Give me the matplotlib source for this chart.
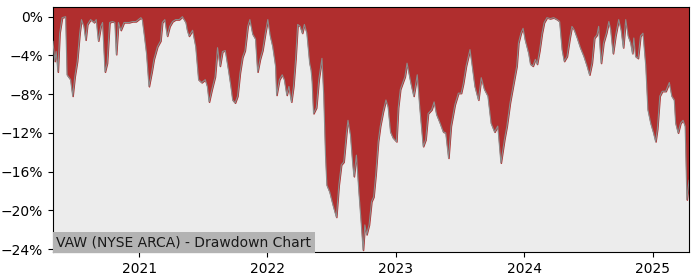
import numpy as np
import pandas as pd
import matplotlib
matplotlib.use("Agg")
import matplotlib.pyplot as plt
import matplotlib.dates as mdates
from matplotlib.ticker import PercentFormatter, MultipleLocator

# ドローダウンのデータ (目視で読み取った値, %)
dates = [
    "2020-05-01", "2020-05-06", "2020-05-10", "2020-05-15", "2020-05-20", "2020-05-27",
    "2020-06-06", "2020-06-10", "2020-06-20", "2020-06-26", "2020-07-02", "2020-07-09",
    "2020-07-16", "2020-07-21", "2020-07-28", "2020-08-02", "2020-08-07", "2020-08-16",
    "2020-08-26", "2020-09-01", "2020-09-07", "2020-09-14", "2020-09-19", "2020-09-26",
    "2020-10-02", "2020-10-09", "2020-10-17", "2020-10-24", "2020-10-28", "2020-11-03",
    "2020-11-10", "2020-11-19", "2020-12-04", "2020-12-13", "2020-12-23", "2021-01-06",
    "2021-01-10", "2021-01-15", "2021-01-22", "2021-01-29", "2021-02-06", "2021-02-12",
    "2021-02-22", "2021-03-03", "2021-03-08", "2021-03-15", "2021-03-22", "2021-03-29",
    "2021-04-06", "2021-04-15", "2021-04-25", "2021-05-04", "2021-05-14", "2021-05-18",
    "2021-05-23", "2021-06-02", "2021-06-11", "2021-06-19", "2021-06-28", "2021-07-08",
    "2021-07-14", "2021-07-19", "2021-07-27", "2021-08-05", "2021-08-12", "2021-08-19",
    "2021-08-26", "2021-09-03", "2021-09-12", "2021-09-19", "2021-09-24", "2021-10-01",
    "2021-10-08", "2021-10-15", "2021-10-22", "2021-10-29", "2021-11-06", "2021-11-12",
    "2021-11-20", "2021-11-28", "2021-12-04", "2021-12-11", "2021-12-18", "2021-12-26",
    "2022-01-02", "2022-01-09", "2022-01-16", "2022-01-24", "2022-01-27", "2022-02-04",
    "2022-02-12", "2022-02-18", "2022-02-25", "2022-03-03", "2022-03-10", "2022-03-16",
    "2022-03-22", "2022-03-28", "2022-04-04", "2022-04-10", "2022-04-16", "2022-04-23",
    "2022-05-01", "2022-05-05", "2022-05-08", "2022-05-12", "2022-05-20", "2022-05-27",
    "2022-06-05", "2022-06-10", "2022-06-15", "2022-06-19", "2022-06-27", "2022-07-06",
    "2022-07-16", "2022-07-23", "2022-07-30", "2022-08-06", "2022-08-14", "2022-08-18",
    "2022-08-25", "2022-08-31", "2022-09-04", "2022-09-11", "2022-09-18", "2022-09-25",
    "2022-09-30", "2022-10-05", "2022-10-10", "2022-10-17", "2022-10-24", "2022-10-30",
    "2022-11-05", "2022-11-12", "2022-11-18", "2022-11-26", "2022-12-04", "2022-12-10",
    "2022-12-17", "2022-12-24", "2023-01-03", "2023-01-08", "2023-01-14", "2023-01-27",
    "2023-02-02", "2023-02-12", "2023-02-21", "2023-03-03", "2023-03-10", "2023-03-20",
    "2023-03-27", "2023-04-03", "2023-04-13", "2023-04-20", "2023-04-27", "2023-05-07",
    "2023-05-16", "2023-05-23", "2023-05-31", "2023-06-07", "2023-06-18", "2023-06-28",
    "2023-07-06", "2023-07-12", "2023-07-20", "2023-07-31", "2023-08-05", "2023-08-14",
    "2023-08-24", "2023-09-01", "2023-09-10", "2023-09-20", "2023-09-29", "2023-10-09",
    "2023-10-18", "2023-10-27", "2023-11-06", "2023-11-13", "2023-11-22", "2023-12-02",
    "2023-12-11", "2023-12-16", "2023-12-23", "2023-12-29", "2024-01-04", "2024-01-14",
    "2024-01-19", "2024-01-26", "2024-02-02", "2024-02-07", "2024-02-14", "2024-02-21",
    "2024-02-27", "2024-03-06", "2024-03-15", "2024-03-25", "2024-04-04", "2024-04-11",
    "2024-04-18", "2024-04-24", "2024-05-02", "2024-05-10", "2024-05-16", "2024-05-23",
    "2024-05-31", "2024-06-09", "2024-06-19", "2024-06-28", "2024-07-05", "2024-07-12",
    "2024-07-19", "2024-07-26", "2024-07-31", "2024-08-07", "2024-08-14", "2024-08-22",
    "2024-08-29", "2024-09-03", "2024-09-10", "2024-09-17", "2024-09-26", "2024-10-03",
    "2024-10-09", "2024-10-16", "2024-10-23", "2024-10-30", "2024-11-04", "2024-11-08",
    "2024-11-13", "2024-11-20", "2024-11-27", "2024-12-04", "2024-12-12", "2024-12-18",
    "2024-12-26", "2025-01-03", "2025-01-09", "2025-01-14", "2025-01-21", "2025-01-28",
    "2025-02-07", "2025-02-17", "2025-02-24", "2025-03-03", "2025-03-07", "2025-03-14",
    "2025-03-21", "2025-03-28", "2025-04-03", "2025-04-08", "2025-04-14",
]
drawdown = [
    -2.55, -4.6, -3.6, -5.7, -1.7, -0.1,
    0.0, -6.0, -6.5, -8.2, -6.2, -4.6,
    -1.7, -0.3, -1.0, -2.4, -0.8, -0.3,
    -0.6, -0.3, -2.5, -1.0, -0.6, -5.7,
    -4.8, -0.6, -0.5, -0.6, -3.9, -0.6,
    -1.4, -0.6, -0.6, -0.5, -0.5, -0.1,
    -0.3, -1.7, -3.8, -7.2, -5.7, -4.4,
    -3.1, -2.5, -0.6, -0.3, -2.0, -1.0,
    -0.5, -0.3, -0.3, 0.0, -0.6, -1.4,
    -2.0, -1.4, -3.1, -6.5, -6.8, -6.5,
    -7.2, -8.8, -7.5, -6.2, -3.2, -5.1,
    -3.6, -3.5, -5.5, -7.2, -8.6, -8.9,
    -8.2, -5.8, -4.2, -3.5, -1.0, -0.3,
    -1.8, -2.3, -5.7, -4.4, -3.5, -1.7,
    -0.3, -2.0, -3.1, -5.1, -8.1, -6.5,
    -6.0, -6.5, -8.1, -7.2, -8.8, -7.2,
    -4.4, -0.8, -1.0, -1.7, -0.8, -1.7,
    -4.8, -5.5, -6.7, -10.0, -9.4, -6.5,
    -4.3, -8.1, -14.3, -17.4, -18.1, -19.4,
    -20.7, -17.4, -15.3, -15.0, -11.9, -10.7,
    -12.2, -15.0, -16.5, -14.3, -18.1, -21.5,
    -24.1, -21.5, -22.5, -21.5, -19.1, -18.6,
    -16.3, -12.9, -11.3, -9.8, -8.6, -9.3,
    -11.9, -12.5, -12.9, -9.4, -7.5, -6.2,
    -4.8, -6.7, -8.2, -6.0, -9.3, -13.4,
    -12.7, -10.0, -9.6, -8.8, -10.1, -11.0,
    -11.9, -12.0, -14.6, -11.3, -9.1, -7.9,
    -7.9, -6.9, -5.1, -3.4, -4.7, -7.2,
    -8.6, -6.3, -7.5, -8.2, -11.0, -11.9,
    -11.3, -15.1, -12.7, -11.3, -8.9, -6.9,
    -5.1, -2.7, -1.7, -1.2, -2.4, -3.8,
    -4.9, -5.1, -4.4, -4.9, -3.5, -1.7,
    -0.6, -0.1, -0.2, -0.1, -0.3, -0.5,
    -3.4, -4.6, -4.1, -2.2, -1.0, -1.4,
    -2.2, -3.2, -4.1, -5.1, -6.0, -4.8,
    -2.2, -1.9, -1.0, -4.8, -2.7, -1.7,
    -0.5, -1.3, -3.8, -2.0, -0.3, -1.4,
    -3.2, -0.3, -2.0, -2.7, -3.8, -2.2,
    -4.1, -4.3, -2.0, -1.7, -5.1, -9.6,
    -11.0, -12.0, -12.9, -11.6, -8.2, -7.7,
    -7.7, -6.8, -8.2, -8.6, -11.0, -12.0,
    -11.0, -10.7, -11.3, -18.9, -16.9,
]
title = "VAW (NYSE ARCA) - Drawdown Chart"

dd = pd.Series(drawdown, index=pd.to_datetime(dates))

fig = plt.figure(figsize=(7, 2.8), dpi=100)
ax = fig.add_axes([0.0757, 0.1, 0.9086, 0.875])

ax.set_facecolor("#ececec")
# ドローダウン部分を赤で塗りつぶし
ax.fill_between(dd.index, dd.values, 1.0, color="#b02e2e", zorder=2)
ax.plot(dd.index, dd.values, color="#8c8c8c", linewidth=0.8, zorder=3)

ax.set_xlim(dd.index[0], dd.index[-1])
ax.set_ylim(-24.3, 1.0)
ax.yaxis.set_major_locator(MultipleLocator(4))
ax.yaxis.set_major_formatter(PercentFormatter(decimals=0))
ax.xaxis.set_major_locator(mdates.YearLocator())
ax.xaxis.set_major_formatter(mdates.DateFormatter("%Y"))

ax.text(0.005, 0.012, title, transform=ax.transAxes, fontsize=10, color="#1a1a1a",
        ha="left", va="bottom", zorder=5,
        bbox=dict(facecolor="#b3b3b3", edgecolor="none", pad=2.5))

fig.savefig("out.png", dpi=100)
